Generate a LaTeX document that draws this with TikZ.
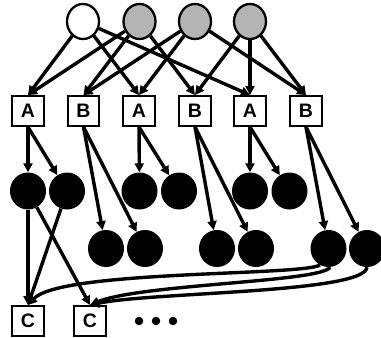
\documentclass[tikz,border=0pt]{standalone}
\usepackage{fontspec}
\setmainfont{Liberation Sans}
\usetikzlibrary{arrows.meta,shapes.geometric}
\definecolor{grayfill}{RGB}{180,180,180}
\begin{document}
\begin{tikzpicture}[x=1pt,y=-1pt,
  topnode/.style={ellipse, draw, line width=2.3pt, minimum width=32pt, minimum height=35pt, inner sep=0pt},
  whitenode/.style={topnode, fill=white},
  graynode/.style={topnode, fill=grayfill},
  blacknode/.style={ellipse, fill=black, minimum width=36pt, minimum height=37pt, inner sep=0pt},
  labelbox/.style={draw, line width=2.4pt, minimum width=31.5pt, minimum height=29.5pt, inner sep=0pt, font=\fontsize{19.5}{19.5}\selectfont\bfseries, fill=white},
  conn/.style={line width=3.4pt, -{Triangle[length=9pt,width=9pt]}},
  dotnode/.style={circle, fill=black, minimum size=8.5pt, inner sep=0pt}
]
\clip (0,0) rectangle (381,338);
% top circles
\node[whitenode] (c1) at (83,21.5) {};
\node[graynode] (c2) at (139.5,21.5) {};
\node[graynode] (c3) at (195,21.5) {};
\node[graynode] (c4) at (250,21.5) {};
% boxes
\node[labelbox] (A1) at (28,111) {A};
\node[labelbox] (B1) at (83.5,111) {B};
\node[labelbox] (A2) at (139,111) {A};
\node[labelbox] (B2) at (195,111) {B};
\node[labelbox] (A3) at (250,111) {A};
\node[labelbox] (B3) at (306,111) {B};
% black row 1
\node[blacknode] (b1) at (28,191) {};
\node[blacknode] (b2) at (67,191) {};
\node[blacknode] (b3) at (139.5,191) {};
\node[blacknode] (b4) at (179,191) {};
\node[blacknode] (b5) at (250,191) {};
\node[blacknode] (b6) at (289.5,191) {};
% black row 2
\node[blacknode] (d1) at (106,248.5) {};
\node[blacknode] (d2) at (145,248.5) {};
\node[blacknode] (d3) at (217,248.5) {};
\node[blacknode] (d4) at (256,248.5) {};
\node[blacknode] (d5) at (328.5,248.5) {};
\node[blacknode] (d6) at (367,248.5) {};
% C boxes
\node[labelbox] (C1) at (28,321) {C};
\node[labelbox] (C2) at (90,321) {C};
% dots
\node[dotnode] (e1) at (139,321) {};
\node[dotnode] (e2) at (156,321) {};
\node[dotnode] (e3) at (173,321) {};
% top edges
\draw[conn] (c1) -- (A1.north);
\draw[conn] (c1) -- (A2.north);
\draw[conn] (c1) -- (A3.north);
\draw[conn] (c2) -- (A1.north);
\draw[conn] (c2) -- (B1.north);
\draw[conn] (c2) -- (B2.north);
\draw[conn] (c3) -- (B1.north);
\draw[conn] (c3) -- (A2.north);
\draw[conn] (c3) -- (B3.north);
\draw[conn] (c4) -- (B2.north);
\draw[conn] (c4) -- (A3.north);
\draw[conn] (c4) -- (B3.north);
% second level
\draw[conn] (A1.south) -- (b1);
\draw[conn] (A1.south) -- (b2);
\draw[conn] (A2.south) -- (b3);
\draw[conn] (A2.south) -- (b4);
\draw[conn] (A3.south) -- (b5);
\draw[conn] (A3.south) -- (b6);
\draw[conn] (B1.south) -- (d1);
\draw[conn] (B1.south) -- (d2);
\draw[conn] (B2.south) -- (d3);
\draw[conn] (B2.south) -- (d4);
\draw[conn] (B3.south) -- (d5);
\draw[conn] (B3.south) -- (d6);
% to C
\draw[conn] (b1) -- (C1.north);
\draw[conn] (b2) -- (C1.north);
\draw[conn] (b1) -- (C2.north);
\draw[conn] (d5.243) .. controls +(-20,11) and +(32,-35) .. (C1.north);
\draw[conn] (d5.275) .. controls +(-8,15) and +(50,-21) .. (C2.north);
\draw[conn] (d6.270) .. controls +(-2,26) and +(60,-13) .. (C2.north);
\end{tikzpicture}
\end{document}
